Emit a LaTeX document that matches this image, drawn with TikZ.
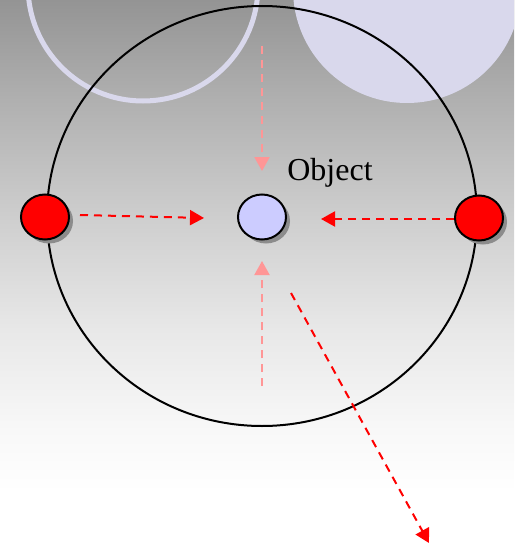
\documentclass[tikz,border=0pt]{standalone}
\usepackage{fontspec}
\setmainfont{Liberation Serif}
\usepackage{tikz}
\usetikzlibrary{positioning,arrows.meta,shapes.geometric,shadows}

\definecolor{lavender}{RGB}{217,216,236}
\definecolor{objblue}{RGB}{204,204,255}
\definecolor{pinkline}{RGB}{255,150,150}
\definecolor{bggray}{RGB}{148,148,148}
\definecolor{bgA}{RGB}{176,176,176}
\definecolor{bgB}{RGB}{206,206,206}
\definecolor{bgC}{RGB}{232,232,232}
\definecolor{bgD}{RGB}{248,248,248}
\pgfdeclareverticalshading{bgfade}{100bp}{color(0bp)=(white); color(30bp)=(white); color(35.6bp)=(bgD); color(44.8bp)=(bgC); color(55.1bp)=(bgB); color(65.8bp)=(bgA); color(75bp)=(bggray); color(100bp)=(bggray)}

\begin{document}
\begin{tikzpicture}[
    x=1pt, y=-1pt,
    >={Triangle[length=14pt,width=15pt]},
    ball/.style={draw, ellipse, line width=2pt, minimum width=48pt, minimum height=45pt, inner sep=0pt,
        drop shadow={shadow xshift=4pt, shadow yshift=-4pt, fill=gray!90, opacity=1}},
    force/.style={->, red, line width=2pt, dash pattern=on 8pt off 6pt},
    softforce/.style={->, pinkline, line width=2pt, dash pattern=on 8pt off 6pt}
]

% Background
\useasboundingbox (0,0) rectangle (514,546);
\shade[shading=bgfade] (0,0) rectangle (514,546);
\clip (0,0) rectangle (514,546);

% Lavender circles at the top
\draw[lavender, line width=5pt] (143,-14) circle (115);
\fill[lavender] (407,-11) circle (114);

% Big circle
\draw[line width=2pt] (262,216) ellipse (215 and 210);

% Bodies
\node[ball, fill=red] (left) at (45,217) {};
\node[ball, fill=red] (right) at (479,218) {};
\node[ball, fill=objblue] (object) at (262,217) {};
\node[draw=none, font=\fontsize{32}{38}\selectfont, inner sep=0pt] (label) at (330,173) {Object};

% Arrow ends
\coordinate (topfrom) at (262,46);
\coordinate (topto) at (262,171);
\coordinate (leftfrom) at (80,215);
\coordinate (leftto) at (204,218);
\coordinate (rightfrom) at (454,219);
\coordinate (rightto) at (321,219);
\coordinate (bottomfrom) at (262,386);
\coordinate (bottomto) at (262,261);
\coordinate (awayfrom) at (291,293);
\coordinate (awayto) at (429,543);

% Arrows
\draw[softforce] (topfrom) -- (topto);
\draw[softforce] (bottomfrom) -- (bottomto);
\draw[force] (leftfrom) -- (leftto);
\draw[force] (rightfrom) -- (rightto);
\draw[force] (awayfrom) -- (awayto);

\end{tikzpicture}
\end{document}
